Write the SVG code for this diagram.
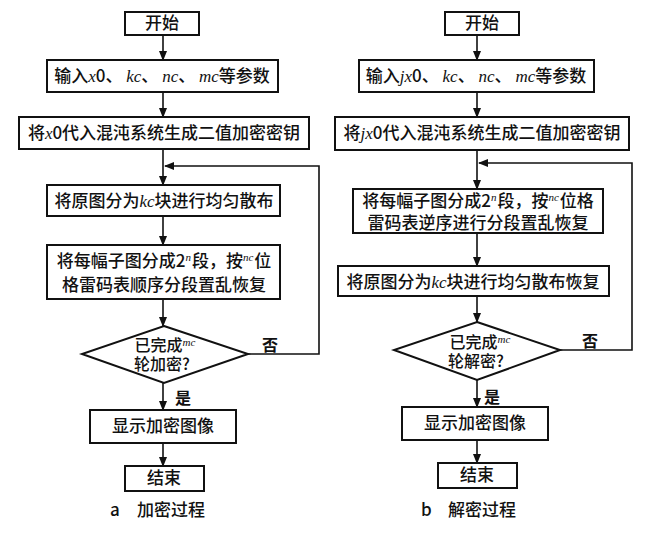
<svg xmlns="http://www.w3.org/2000/svg" width="651" height="541" viewBox="0 0 651 541">
<defs>
<marker id="ah" markerWidth="10" markerHeight="10" refX="9" refY="5" orient="auto" markerUnits="userSpaceOnUse">
<path d="M0,1 L10,5 L0,9 Z" fill="#111"/>
</marker>
<style>
.box{fill:#fff;stroke:#111;stroke-width:2}
.t{font-family:"Noto Sans CJK SC","Liberation Serif",sans-serif;font-size:17px;font-weight:500;fill:#111;text-anchor:middle}
.d{font-family:"Noto Sans CJK SC","Liberation Serif",sans-serif;font-size:16px;font-weight:500;fill:#111;text-anchor:middle}
.v{font-family:"Liberation Serif",serif;font-style:italic}
.s{font-family:"Liberation Serif",serif;font-style:italic;font-size:11px}
.cap{font-family:"Noto Sans CJK SC","Liberation Serif",sans-serif;font-size:17px;font-weight:500;fill:#111}
.ln{fill:none;stroke:#111;stroke-width:1.6}
.lb{font-family:"Noto Sans CJK SC",sans-serif;font-size:16px;fill:#111;font-weight:bold}
</style>
</defs>
<rect width="651" height="541" fill="#fff"/>

<g id="connectors">
<line class="ln" x1="163" y1="35" x2="163" y2="60" marker-end="url(#ah)"/>
<line class="ln" x1="163" y1="92" x2="163" y2="117" marker-end="url(#ah)"/>
<line class="ln" x1="163" y1="149" x2="163" y2="185" marker-end="url(#ah)"/>
<line class="ln" x1="163" y1="216" x2="163" y2="245" marker-end="url(#ah)"/>
<line class="ln" x1="163" y1="299" x2="163" y2="326" marker-end="url(#ah)"/>
<line class="ln" x1="163" y1="383" x2="163" y2="410" marker-end="url(#ah)"/>
<line class="ln" x1="163" y1="443" x2="163" y2="466" marker-end="url(#ah)"/>
<polyline class="ln" points="248,354 319,354 319,166 165,166" marker-end="url(#ah)"/>

<line class="ln" x1="477" y1="35" x2="477" y2="60" marker-end="url(#ah)"/>
<line class="ln" x1="477" y1="92" x2="477" y2="117" marker-end="url(#ah)"/>
<line class="ln" x1="477" y1="150" x2="477" y2="189" marker-end="url(#ah)"/>
<line class="ln" x1="477" y1="233" x2="477" y2="266" marker-end="url(#ah)"/>
<line class="ln" x1="477" y1="296" x2="477" y2="322" marker-end="url(#ah)"/>
<line class="ln" x1="477" y1="380" x2="477" y2="407" marker-end="url(#ah)"/>
<line class="ln" x1="477" y1="440" x2="477" y2="463" marker-end="url(#ah)"/>
<polyline class="ln" points="560,350 632,350 632,163 479,163" marker-end="url(#ah)"/>
<text class="lb" x="262" y="351">否</text>
<text class="lb" x="175" y="404">是</text>
<text class="lb" x="582" y="347">否</text>
<text class="lb" x="484" y="403">是</text>
</g>

<g id="a-start"><rect class="box" x="125" y="12" width="74" height="23"/><text class="t" x="162" y="29">开始</text></g>
<g id="a-input"><rect class="box" x="47" y="60" width="231" height="32"/><text class="t" x="162" y="82">输入<tspan class="v">x</tspan>0、 <tspan class="v">kc</tspan>、 <tspan class="v">nc</tspan>、 <tspan class="v">mc</tspan>等参数</text></g>
<g id="a-key"><rect class="box" x="19" y="117" width="290" height="32"/><text class="t" x="164" y="139">将<tspan class="v">x</tspan>0代入混沌系统生成二值加密密钥</text></g>
<g id="a-spread"><rect class="box" x="47" y="185" width="233" height="31"/><text class="t" x="164" y="207">将原图分为<tspan class="v">kc</tspan>块进行均匀散布</text></g>
<g id="a-scramble"><rect class="box" x="47" y="245" width="233" height="54"/>
<text class="t" x="164" y="267">将每幅子图分成2<tspan class="s" dy="-6">n</tspan><tspan dx="1" dy="6">段，按</tspan><tspan class="s" dy="-6">nc</tspan><tspan dx="1" dy="6">位</tspan></text>
<text class="t" x="164" y="291">格雷码表顺序分段置乱恢复</text></g>
<g id="a-check"><polygon class="box" points="164,326 248,354 164,383 82,354"/>
<text class="d" x="165" y="351">已完成<tspan class="s" dy="-5">mc</tspan></text>
<text class="d" x="162" y="370">轮加密?</text></g>
<g id="a-show"><rect class="box" x="90" y="410" width="146" height="33"/><text class="t" x="163" y="432">显示加密图像</text></g>
<g id="a-end"><rect class="box" x="125" y="466" width="79" height="25"/><text class="t" x="164" y="484">结束</text></g>
<g id="a-caption"><text class="cap" x="110" y="516">a</text><text class="cap" x="137" y="516">加密过程</text></g>

<g id="b-start"><rect class="box" x="445" y="12" width="74" height="23"/><text class="t" x="482" y="29">开始</text></g>
<g id="b-input"><rect class="box" x="359" y="60" width="235" height="32"/><text class="t" x="476" y="82">输入<tspan class="v">jx</tspan>0、 <tspan class="v">kc</tspan>、 <tspan class="v">nc</tspan>、 <tspan class="v">mc</tspan>等参数</text></g>
<g id="b-key"><rect class="box" x="335" y="117" width="294" height="33"/><text class="t" x="482" y="139">将<tspan class="v">jx</tspan>0代入混沌系统生成二值加密密钥</text></g>
<g id="b-scramble"><rect class="box" x="353" y="189" width="250" height="44"/>
<text class="t" x="478" y="207">将每幅子图分成2<tspan class="s" dy="-6">n</tspan><tspan dx="1" dy="6">段，按</tspan><tspan class="s" dy="-6">nc</tspan><tspan dx="1" dy="6">位格</tspan></text>
<text class="t" x="478" y="229">雷码表逆序进行分段置乱恢复</text></g>
<g id="b-spread"><rect class="box" x="338" y="266" width="271" height="30"/><text class="t" x="473" y="288">将原图分为<tspan class="v">kc</tspan>块进行均匀散布恢复</text></g>
<g id="b-check"><polygon class="box" points="477,322 560,350 477,380 394,350"/>
<text class="d" x="480" y="348">已完成<tspan class="s" dy="-5">mc</tspan></text>
<text class="d" x="476" y="367">轮解密?</text></g>
<g id="b-show"><rect class="box" x="402" y="407" width="146" height="33"/><text class="t" x="475" y="429">显示加密图像</text></g>
<g id="b-end"><rect class="box" x="438" y="463" width="79" height="25"/><text class="t" x="477" y="481">结束</text></g>
<g id="b-caption"><text class="cap" x="421" y="516">b</text><text class="cap" x="448" y="516">解密过程</text></g>
</svg>
